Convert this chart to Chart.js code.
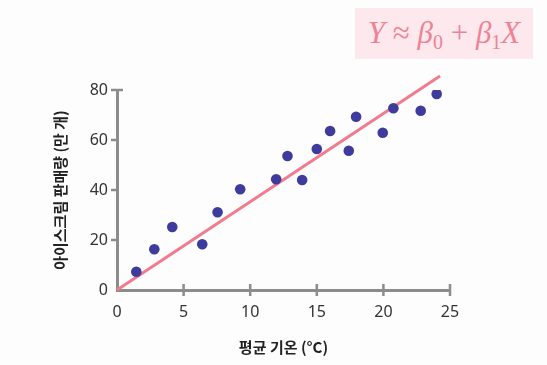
<!DOCTYPE html>
<html>
<head>
<meta charset="utf-8">
<script src="https://cdn.jsdelivr.net/npm/chart.js@4/dist/chart.umd.min.js"></script>
<style>
  html, body { margin:0; padding:0; background:#fdfdfd; }
  #wrap { position:relative; width:547px; height:365px; }
  #eq { position:absolute; left:355px; top:8px; width:178px; height:51px; background:#fde8ed;
        color:#ee8396; font-family:"Liberation Serif","DejaVu Serif",serif; font-size:31px;
        line-height:49px; text-align:center; white-space:nowrap; }
  #eq i { font-style:italic; }
  #eq sub { font-size:20px; vertical-align:-6px; line-height:0; font-style:normal; }
</style>
</head>
<body>
<div id="wrap">
  <canvas id="c" width="547" height="365"></canvas>
  <div id="eq"><i>Y</i> ≈ <i>β</i><sub>0</sub> + <i>β</i><sub>1</sub><i>X</i></div>
</div>
<script>
// Data
const temps = [1.45, 2.8, 4.15, 6.4, 7.55, 9.25, 11.95, 12.8, 13.9, 15.0, 16.0, 17.4, 17.95, 19.95, 20.75, 22.8, 24.0];
const sales = [7.3, 16.3, 25.2, 18.3, 31.1, 40.3, 44.3, 53.6, 44.0, 56.4, 63.6, 55.7, 69.3, 62.9, 72.7, 71.7, 78.4];
const fitX = [0, 24.25];
const fitY = [0, 85.6];
const xTicks = [0, 5, 10, 15, 20, 25];
const yTicks = [0, 20, 40, 60, 80];
const xTitle = '평균 기온 (°C)';
const yTitle = '아이스크림 판매량 (만 개)';

const AXIS = '#8c8c8c';
const tickMarks = {
  id: 'tickMarks',
  afterDraw(chart) {
    const { ctx, chartArea: a, scales: { x, y } } = chart;
    ctx.save();
    ctx.strokeStyle = AXIS;
    ctx.lineWidth = 2.5;
    ctx.beginPath();
    xTicks.forEach(v => {
      if (v === 0) return;
      const px = x.getPixelForValue(v);
      ctx.moveTo(px, a.bottom - 6); ctx.lineTo(px, a.bottom + 6);
    });
    yTicks.forEach(v => {
      if (v === 0) return;
      const py = y.getPixelForValue(v);
      ctx.moveTo(a.left - 6, py); ctx.lineTo(a.left + (v === 80 ? 6 : 2), py);
    });
    ctx.stroke();
    ctx.restore();
  }
};

new Chart(document.getElementById('c'), {
  type: 'scatter',
  data: {
    datasets: [
      {
        data: temps.map((t, i) => ({ x: t, y: sales[i] })),
        backgroundColor: '#3f3b9c',
        borderWidth: 0,
        pointRadius: 5.3,
        pointHoverRadius: 5.3
      },
      {
        type: 'line',
        data: fitX.map((t, i) => ({ x: t, y: fitY[i] })),
        borderColor: '#f27b8e',
        borderWidth: 3,
        pointRadius: 0,
        fill: false,
        clip: false
      }
    ]
  },
  options: {
    responsive: false,
    animation: false,
    events: [],
    layout: { padding: { top: 90, right: 97, left: 0, bottom: 0 } },
    plugins: { legend: { display: false }, tooltip: { enabled: false } },
    scales: {
      x: {
        type: 'linear', min: 0, max: 25,
        afterBuildTicks: s => { s.ticks = xTicks.map(v => ({ value: v })); },
        afterFit: s => { s.height = 75; },
        grid: { display: false, drawTicks: false },
        border: { display: true, color: AXIS, width: 3 },
        ticks: { color: '#333', padding: 13, font: { family: '"Noto Sans"', size: 16 } },
        title: { display: true, text: xTitle, color: '#222',
                 font: { family: '"Noto Sans CJK KR"', size: 15, weight: 'bold' },
                 padding: { top: 0, bottom: 9 } }
      },
      y: {
        type: 'linear', min: 0, max: 80,
        afterBuildTicks: s => { s.ticks = yTicks.map(v => ({ value: v })); },
        afterFit: s => { s.width = 117; },
        grid: { display: false, drawTicks: false },
        border: { display: true, color: AXIS, width: 3 },
        ticks: { color: '#333', padding: 9, font: { family: '"Noto Sans"', size: 16 } },
        title: { display: true, text: yTitle, color: '#222',
                 font: { family: '"Noto Sans CJK KR"', size: 15, weight: 'bold' },
                 padding: { top: 51, bottom: 0 } }
      }
    }
  },
  plugins: [tickMarks]
});
</script>
</body>
</html>
